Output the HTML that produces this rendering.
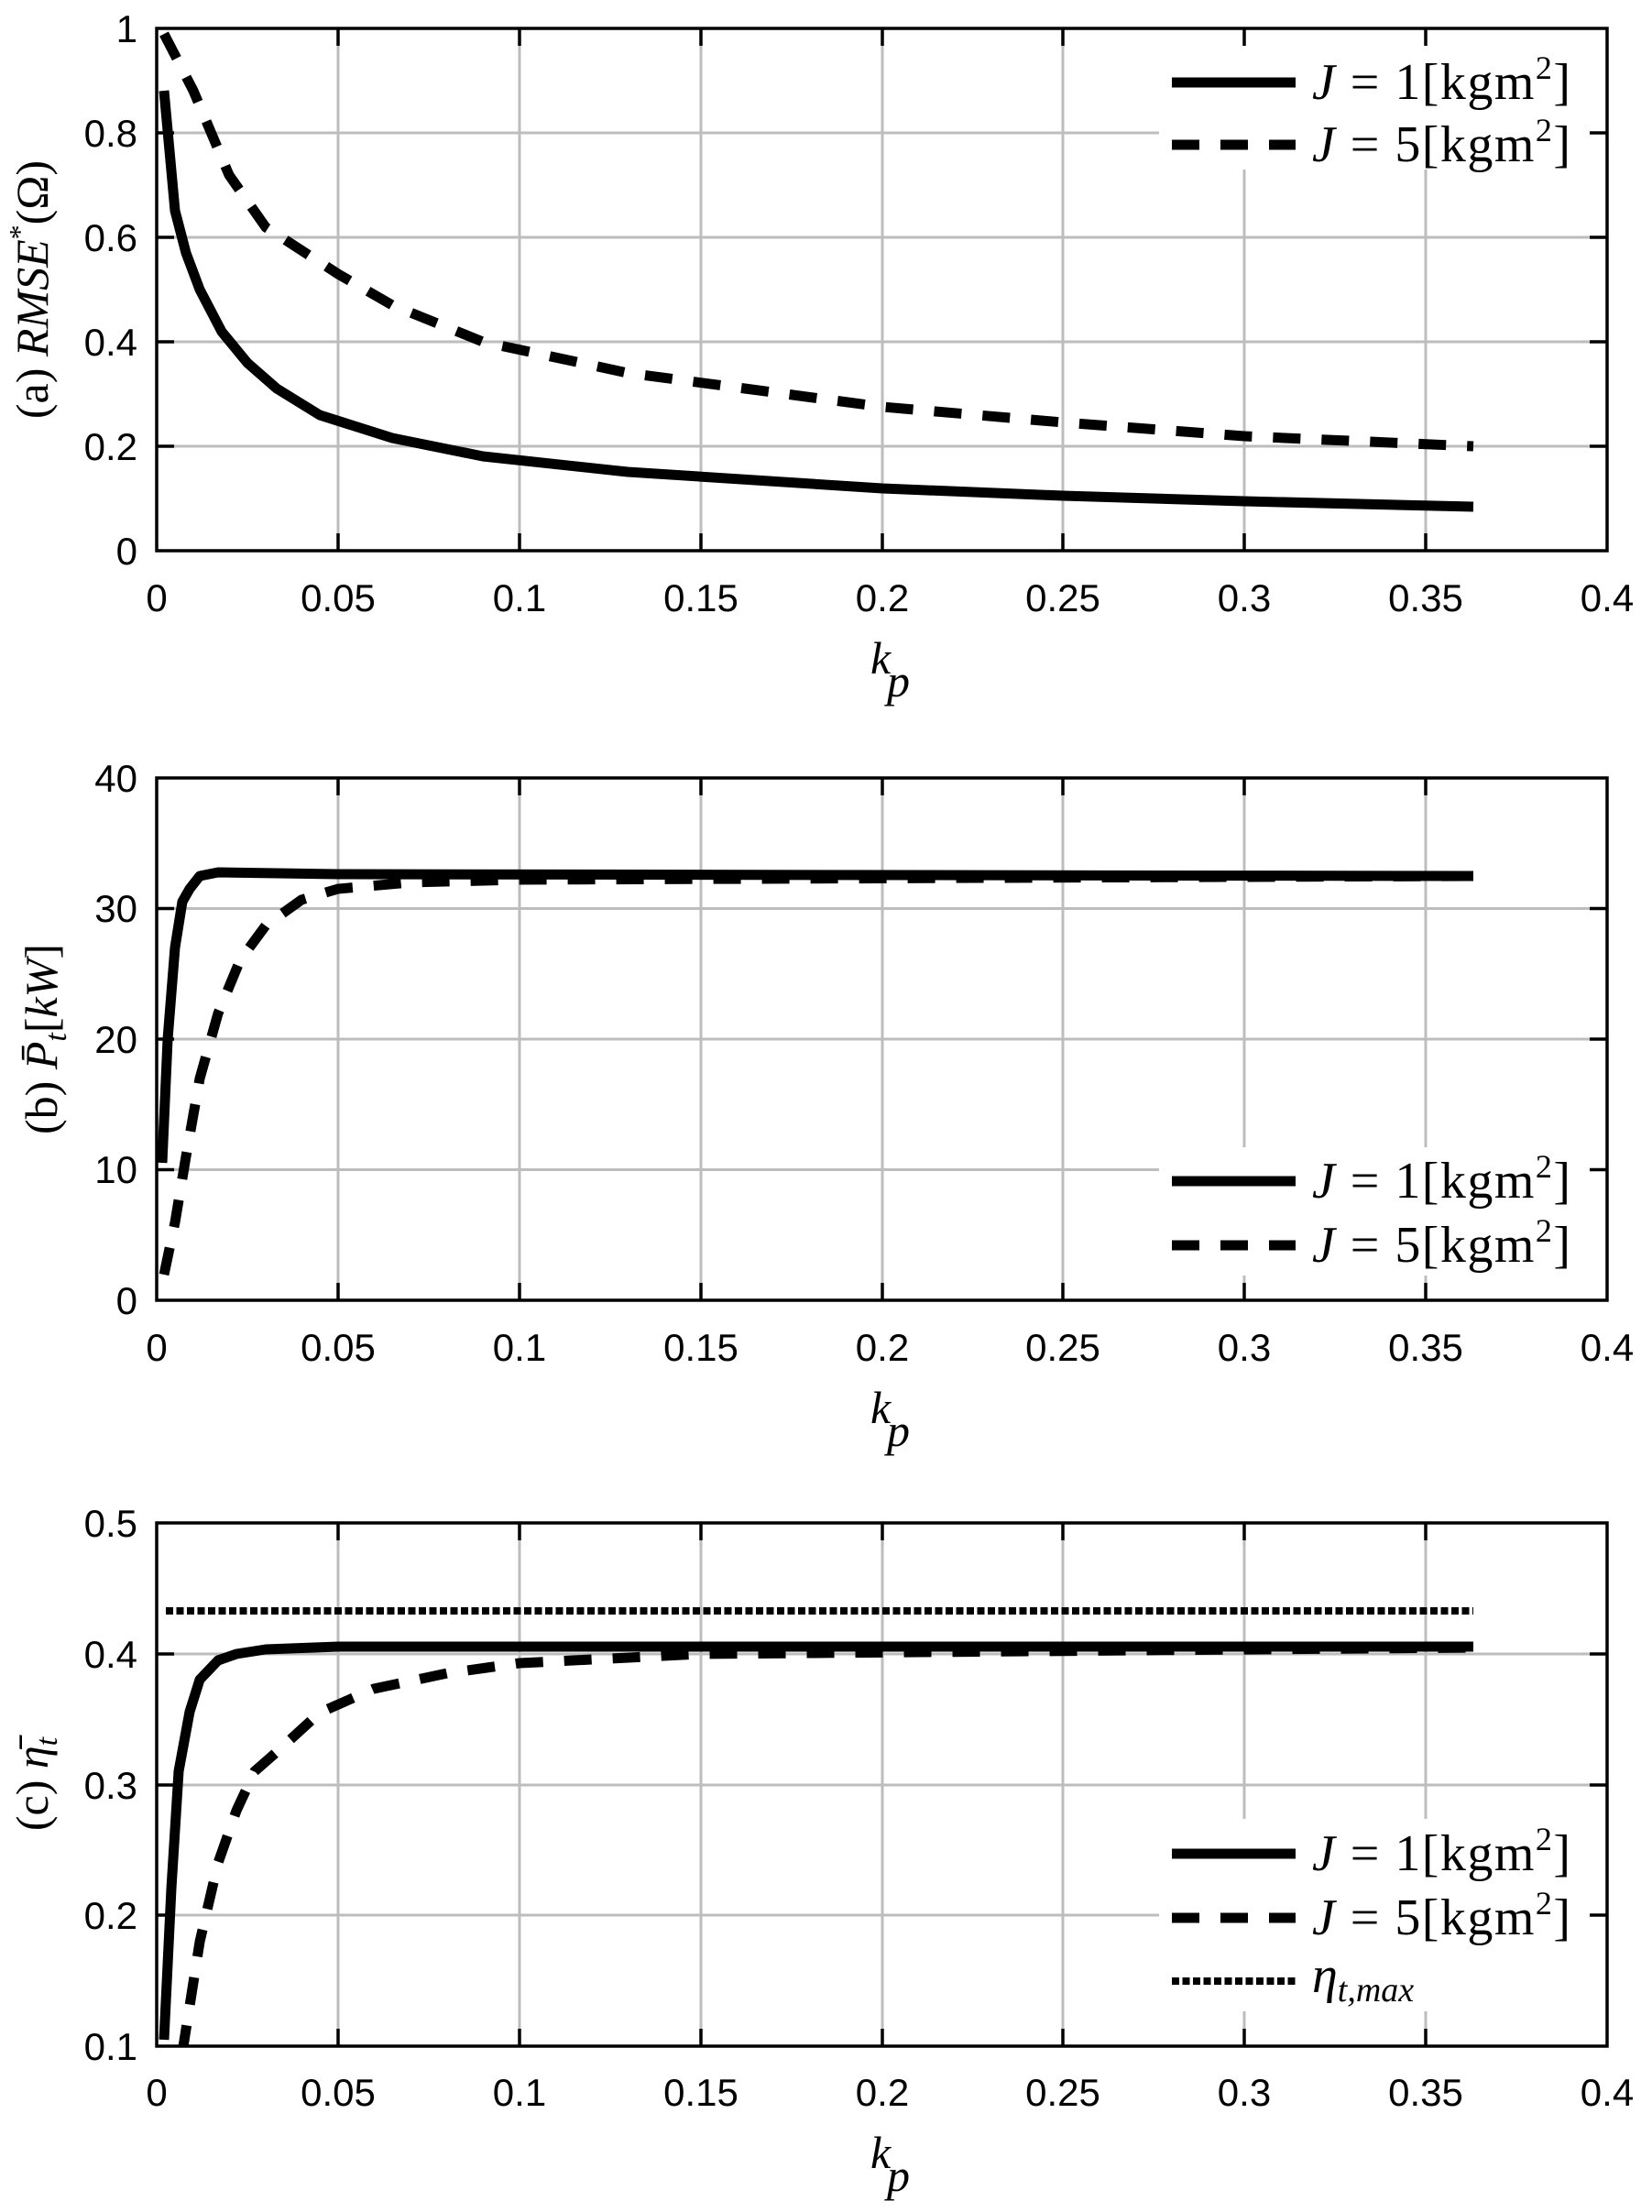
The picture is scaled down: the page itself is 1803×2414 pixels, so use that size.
<!DOCTYPE html>
<html><head><meta charset="utf-8"><style>
html,body{margin:0;padding:0;background:#fff}
svg{display:block}
.t{font-family:"Liberation Sans",sans-serif;font-size:42px;fill:#000}
.s{font-family:"Liberation Serif",serif;font-size:50px;fill:#000}
.l{font-family:"Liberation Serif",serif;font-size:56px;fill:#000}
.g{stroke:#bdbdbd;stroke-width:3}
.ax{fill:none;stroke:#000;stroke-width:3.5}
.tk{stroke:#000;stroke-width:3.5}
.sol{fill:none;stroke:#000;stroke-width:11;stroke-linejoin:round}
.dsh{fill:none;stroke:#000;stroke-width:11;stroke-dasharray:30 23}
.dot{fill:none;stroke:#000;stroke-width:8;stroke-dasharray:8 3.5}
</style></head><body>
<svg width="1803" height="2414" viewBox="0 0 1803 2414" xmlns="http://www.w3.org/2000/svg">
<defs>
<clipPath id="ca"><rect x="171" y="31" width="1583" height="570"/></clipPath>
<clipPath id="cb"><rect x="171" y="849" width="1583" height="570"/></clipPath>
<clipPath id="cc"><rect x="171" y="1662" width="1583" height="571"/></clipPath>
</defs>

<!-- Panel A -->
<g class="g">
<line x1="369" y1="31" x2="369" y2="601"/><line x1="567" y1="31" x2="567" y2="601"/><line x1="765" y1="31" x2="765" y2="601"/><line x1="963" y1="31" x2="963" y2="601"/><line x1="1160" y1="31" x2="1160" y2="601"/><line x1="1358" y1="31" x2="1358" y2="601"/><line x1="1556" y1="31" x2="1556" y2="601"/>
<line x1="171" y1="487" x2="1754" y2="487"/><line x1="171" y1="373" x2="1754" y2="373"/><line x1="171" y1="259" x2="1754" y2="259"/><line x1="171" y1="145" x2="1754" y2="145"/>
</g>
<rect x="1265" y="50" width="470" height="135" fill="#fff"/>
<g clip-path="url(#ca)">
<polyline class="sol" points="179,99 191,230 203,276 218,316 242,362 270,396 302,424 349,453 428,478 527,498 685,515 963,533 1160,541 1358,547 1608,553"/>
<polyline class="dsh" points="179,37 211,99 250,191 290,248 369,299 428,333 527,373 685,407 963,444 1160,461 1358,476 1608,487"/>
</g>
<rect class="ax" x="171" y="31" width="1583" height="570"/>
<g class="tk">
<path d="M369 601v-19M567 601v-19M765 601v-19M963 601v-19M1160 601v-19M1358 601v-19M1556 601v-19M369 31v19M567 31v19M765 31v19M963 31v19M1160 31v19M1358 31v19M1556 31v19"/>
<path d="M171 487h19M171 373h19M171 259h19M171 145h19M1754 487h-19M1754 373h-19M1754 259h-19M1754 145h-19"/>
</g>
<g class="t" text-anchor="end">
<text x="150" y="616">0</text><text x="150" y="502">0.2</text><text x="150" y="388">0.4</text><text x="150" y="274">0.6</text><text x="150" y="160">0.8</text><text x="150" y="46">1</text>
</g>
<g class="t" text-anchor="middle">
<text x="171" y="667">0</text><text x="369" y="667">0.05</text><text x="567" y="667">0.1</text><text x="765" y="667">0.15</text><text x="963" y="667">0.2</text><text x="1160" y="667">0.25</text><text x="1358" y="667">0.3</text><text x="1556" y="667">0.35</text><text x="1754" y="667">0.4</text>
</g>
<text class="s" x="950" y="735" font-style="italic">k</text><text class="s" x="968" y="760" font-size="36" font-style="italic">p</text>
<text class="s" transform="translate(52,316) rotate(-90)" text-anchor="middle">(a) <tspan font-style="italic">RMSE</tspan><tspan font-size="32" dy="-20">*</tspan><tspan dy="20">(Ω)</tspan></text>
<line x1="1279" y1="90" x2="1414" y2="90" stroke="#000" stroke-width="11"/>
<line x1="1279" y1="158" x2="1414" y2="158" class="dsh"/>
<text class="l" x="1432" y="108" textLength="282" lengthAdjust="spacing"><tspan font-style="italic">J</tspan> = 1[kgm<tspan font-size="36" dy="-22">2</tspan><tspan dy="22">]</tspan></text>
<text class="l" x="1432" y="176" textLength="282" lengthAdjust="spacing"><tspan font-style="italic">J</tspan> = 5[kgm<tspan font-size="36" dy="-22">2</tspan><tspan dy="22">]</tspan></text>

<!-- Panel B -->
<g class="g">
<line x1="369" y1="849" x2="369" y2="1419"/><line x1="567" y1="849" x2="567" y2="1419"/><line x1="765" y1="849" x2="765" y2="1419"/><line x1="963" y1="849" x2="963" y2="1419"/><line x1="1160" y1="849" x2="1160" y2="1419"/><line x1="1358" y1="849" x2="1358" y2="1419"/><line x1="1556" y1="849" x2="1556" y2="1419"/>
<line x1="171" y1="1276.5" x2="1754" y2="1276.5"/><line x1="171" y1="1134" x2="1754" y2="1134"/><line x1="171" y1="991.5" x2="1754" y2="991.5"/>
</g>
<rect x="1265" y="1252" width="470" height="140" fill="#fff"/>
<g clip-path="url(#cb)">
<polyline class="sol" points="177,1269 183,1134 191,1034 199,984 207,970 218,956 238,952 369,954 1608,956"/>
<polyline class="dsh" points="179,1391 191,1334 203,1262 218,1177 238,1106 262,1048 290,1010 329,982 369,970 448,963 567,960 1608,956"/>
</g>
<rect class="ax" x="171" y="849" width="1583" height="570"/>
<g class="tk">
<path d="M369 1419v-19M567 1419v-19M765 1419v-19M963 1419v-19M1160 1419v-19M1358 1419v-19M1556 1419v-19M369 849v19M567 849v19M765 849v19M963 849v19M1160 849v19M1358 849v19M1556 849v19"/>
<path d="M171 1276.5h19M171 1134h19M171 991.5h19M1754 1276.5h-19M1754 1134h-19M1754 991.5h-19"/>
</g>
<g class="t" text-anchor="end">
<text x="150" y="1434">0</text><text x="150" y="1291">10</text><text x="150" y="1149">20</text><text x="150" y="1006">30</text><text x="150" y="864">40</text>
</g>
<g class="t" text-anchor="middle">
<text x="171" y="1485">0</text><text x="369" y="1485">0.05</text><text x="567" y="1485">0.1</text><text x="765" y="1485">0.15</text><text x="963" y="1485">0.2</text><text x="1160" y="1485">0.25</text><text x="1358" y="1485">0.3</text><text x="1556" y="1485">0.35</text><text x="1754" y="1485">0.4</text>
</g>
<text class="s" x="950" y="1553" font-style="italic">k</text><text class="s" x="968" y="1578" font-size="36" font-style="italic">p</text>
<text class="s" transform="translate(62,1134) rotate(-90)" text-anchor="middle">(b) <tspan font-style="italic">P̄</tspan><tspan font-size="34" font-style="italic" dy="10">t</tspan><tspan dy="-10">[</tspan><tspan font-style="italic">kW</tspan>]</text>
<line x1="1279" y1="1289" x2="1414" y2="1289" stroke="#000" stroke-width="11"/>
<line x1="1279" y1="1359" x2="1414" y2="1359" class="dsh"/>
<text class="l" x="1432" y="1307" textLength="282" lengthAdjust="spacing"><tspan font-style="italic">J</tspan> = 1[kgm<tspan font-size="36" dy="-22">2</tspan><tspan dy="22">]</tspan></text>
<text class="l" x="1432" y="1377" textLength="282" lengthAdjust="spacing"><tspan font-style="italic">J</tspan> = 5[kgm<tspan font-size="36" dy="-22">2</tspan><tspan dy="22">]</tspan></text>

<!-- Panel C -->
<g class="g">
<line x1="369" y1="1662" x2="369" y2="2233"/><line x1="567" y1="1662" x2="567" y2="2233"/><line x1="765" y1="1662" x2="765" y2="2233"/><line x1="963" y1="1662" x2="963" y2="2233"/><line x1="1160" y1="1662" x2="1160" y2="2233"/><line x1="1358" y1="1662" x2="1358" y2="2233"/><line x1="1556" y1="1662" x2="1556" y2="2233"/>
<line x1="171" y1="2090" x2="1754" y2="2090"/><line x1="171" y1="1948" x2="1754" y2="1948"/><line x1="171" y1="1805" x2="1754" y2="1805"/>
</g>
<rect x="1265" y="1985" width="470" height="210" fill="#fff"/>
<g clip-path="url(#cc)">
<line class="dot" x1="181" y1="1758" x2="1608" y2="1758"/>
<polyline class="sol" points="179,2226 187,2061 195,1933 207,1868 218,1833 238,1812 258,1805 290,1800 369,1797 1608,1797"/>
<polyline class="dsh" points="199,2240 218,2119 238,2033 258,1976 278,1933 302,1912 349,1869 408,1843 488,1826 567,1815 765,1805 1608,1798"/>
</g>
<rect class="ax" x="171" y="1662" width="1583" height="571"/>
<g class="tk">
<path d="M369 2233v-19M567 2233v-19M765 2233v-19M963 2233v-19M1160 2233v-19M1358 2233v-19M1556 2233v-19M369 1662v19M567 1662v19M765 1662v19M963 1662v19M1160 1662v19M1358 1662v19M1556 1662v19"/>
<path d="M171 2090h19M171 1948h19M171 1805h19M1754 2090h-19M1754 1948h-19M1754 1805h-19"/>
</g>
<g class="t" text-anchor="end">
<text x="150" y="2248">0.1</text><text x="150" y="2105">0.2</text><text x="150" y="1963">0.3</text><text x="150" y="1820">0.4</text><text x="150" y="1677">0.5</text>
</g>
<g class="t" text-anchor="middle">
<text x="171" y="2298">0</text><text x="369" y="2298">0.05</text><text x="567" y="2298">0.1</text><text x="765" y="2298">0.15</text><text x="963" y="2298">0.2</text><text x="1160" y="2298">0.25</text><text x="1358" y="2298">0.3</text><text x="1556" y="2298">0.35</text><text x="1754" y="2298">0.4</text>
</g>
<text class="s" x="950" y="2366" font-style="italic">k</text><text class="s" x="968" y="2391" font-size="36" font-style="italic">p</text>
<text class="s" transform="translate(52,1947) rotate(-90)" text-anchor="middle">(c) <tspan font-style="italic">η̄</tspan><tspan font-size="34" font-style="italic" dy="10">t</tspan></text>
<line x1="1279" y1="2023" x2="1414" y2="2023" stroke="#000" stroke-width="11"/>
<line x1="1279" y1="2093" x2="1414" y2="2093" class="dsh"/>
<line x1="1279" y1="2162" x2="1414" y2="2162" class="dot"/>
<text class="l" x="1432" y="2041" textLength="282" lengthAdjust="spacing"><tspan font-style="italic">J</tspan> = 1[kgm<tspan font-size="36" dy="-22">2</tspan><tspan dy="22">]</tspan></text>
<text class="l" x="1432" y="2111" textLength="282" lengthAdjust="spacing"><tspan font-style="italic">J</tspan> = 5[kgm<tspan font-size="36" dy="-22">2</tspan><tspan dy="22">]</tspan></text>
<text class="l" x="1432" y="2174" font-style="italic">η<tspan font-size="38" dy="10">t,max</tspan></text>
</svg>
</body></html>
